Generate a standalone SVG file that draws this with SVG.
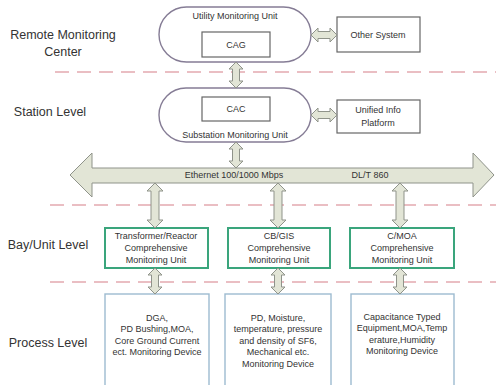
<svg xmlns="http://www.w3.org/2000/svg" width="496" height="385" viewBox="0 0 496 385">
<style>
text{font-family:"Liberation Sans",Arial,sans-serif;fill:#333;text-anchor:middle}
.lvl{font-size:12.5px}
.sm{font-size:9px}
.dash{stroke:#e3a9b0;stroke-width:1.6;stroke-dasharray:14 8;fill:none}
.pill{fill:#fff;stroke:#857c95;stroke-width:1.4}
.box{fill:#fff;stroke:#666;stroke-width:1.2}
.bay{fill:#fff;stroke:#3aa57c;stroke-width:2}
.proc{fill:#fff;stroke:#9dbbd0;stroke-width:1.4}
.arr{fill:#e2e5d6;stroke:#8f938a;stroke-width:1}
</style>
<rect width="496" height="385" fill="#fff"/>
<g id="levels">
<text class="lvl" x="63" y="39">Remote Monitoring</text>
<text class="lvl" x="63" y="56">Center</text>
<text class="lvl" x="50" y="116">Station Level</text>
<text class="lvl" x="48" y="249">Bay/Unit Level</text>
<text class="lvl" x="48" y="347">Process Level</text>
</g>
<g id="dividers">
<line class="dash" x1="55" y1="72" x2="496" y2="72"/>
<line class="dash" x1="50" y1="205" x2="496" y2="205"/>
<line class="dash" x1="50" y1="282" x2="496" y2="282"/>
</g>
<g id="utility">
<rect class="pill" x="159" y="7" width="152" height="55" rx="27.5"/>
<text class="sm" x="235" y="19">Utility Monitoring Unit</text>
<rect class="box" x="202" y="32" width="68" height="25"/>
<text class="sm" x="236" y="48">CAG</text>
</g>
<g id="other">
<rect class="box" x="337" y="17" width="83" height="35"/>
<text class="sm" x="378" y="38">Other System</text>
</g>
<g id="substation">
<rect class="pill" x="159" y="88" width="152" height="54" rx="27"/>
<rect class="box" x="202" y="97" width="68" height="24"/>
<text class="sm" x="236" y="112">CAC</text>
<text class="sm" x="235" y="138">Substation Monitoring Unit</text>
</g>
<g id="unified">
<rect class="box" x="337" y="100" width="83" height="33"/>
<text class="sm" x="378" y="113">Unified Info</text>
<text class="sm" x="378" y="126">Platform</text>
</g>
<g id="ethernet">
<polygon class="arr" points="70,175 92,153 92,168 473,168 473,153 494,175 473,197 473,183 92,183 92,197"/>
<text class="sm" x="234" y="178">Ethernet 100/1000 Mbps</text>
<text class="sm" x="370" y="178">DL/T 860</text>
</g>
<g id="bay1">
<rect class="bay" x="105" y="228" width="103" height="40"/>
<text class="sm" x="156" y="239">Transformer/Reactor</text>
<text class="sm" x="156" y="251">Comprehensive</text>
<text class="sm" x="156" y="263">Monitoring Unit</text>
</g>
<g id="bay2">
<rect class="bay" x="228" y="228" width="102" height="40"/>
<text class="sm" x="279" y="239">CB/GIS</text>
<text class="sm" x="279" y="251">Comprehensive</text>
<text class="sm" x="279" y="263">Monitoring Unit</text>
</g>
<g id="bay3">
<rect class="bay" x="350" y="228" width="104" height="40"/>
<text class="sm" x="402" y="239">C/MOA</text>
<text class="sm" x="402" y="251">Comprehensive</text>
<text class="sm" x="402" y="263">Monitoring Unit</text>
</g>
<g id="proc1">
<rect class="proc" x="105" y="294" width="104" height="100"/>
<text class="sm" x="157" y="321">DGA,</text>
<text class="sm" x="157" y="332">PD Bushing,MOA,</text>
<text class="sm" x="157" y="344">Core Ground Current</text>
<text class="sm" x="157" y="355">ect. Monitoring Device</text>
</g>
<g id="proc2">
<rect class="proc" x="225" y="294" width="106" height="100"/>
<text class="sm" x="278" y="321">PD, Moisture,</text>
<text class="sm" x="278" y="332">temperature, pressure</text>
<text class="sm" x="278" y="344">and density of SF6,</text>
<text class="sm" x="278" y="355">Mechanical  etc.</text>
<text class="sm" x="278" y="367">Monitoring Device</text>
</g>
<g id="proc3">
<rect class="proc" x="351" y="294" width="103" height="100"/>
<text class="sm" x="402" y="320">Capacitance Typed</text>
<text class="sm" x="402" y="331">Equipment,MOA,Temp</text>
<text class="sm" x="402" y="343">erature,Humidity</text>
<text class="sm" x="402" y="354">Monitoring Device</text>
</g>
<g id="connectors">
<path class="arr" d="M236,62 l7,7 h-3.5 v12 h3.5 l-7,7 l-7,-7 h3.5 v-12 h-3.5 z"/>
<path class="arr" d="M236,142 l7,7 h-3.5 v12 h3.5 l-7,7 l-7,-7 h3.5 v-12 h-3.5 z"/>
<path class="arr" d="M311,35 l7,-7 v3.5 h12 v-3.5 l7,7 l-7,7 v-3.5 h-12 v3.5 z"/>
<path class="arr" d="M311,115 l7,-7 v3.5 h12 v-3.5 l7,7 l-7,7 v-3.5 h-12 v3.5 z"/>
<path class="arr" d="M155,183 l8,8 h-4 v29 h4 l-8,8 l-8,-8 h4 v-29 h-4 z"/>
<path class="arr" d="M278,183 l8,8 h-4 v29 h4 l-8,8 l-8,-8 h4 v-29 h-4 z"/>
<path class="arr" d="M400,183 l8,8 h-4 v29 h4 l-8,8 l-8,-8 h4 v-29 h-4 z"/>
<path class="arr" d="M155,268 l7,7 h-3.5 v12 h3.5 l-7,7 l-7,-7 h3.5 v-12 h-3.5 z"/>
<path class="arr" d="M278,268 l7,7 h-3.5 v12 h3.5 l-7,7 l-7,-7 h3.5 v-12 h-3.5 z"/>
<path class="arr" d="M400,268 l7,7 h-3.5 v12 h3.5 l-7,7 l-7,-7 h3.5 v-12 h-3.5 z"/>
</g>
</svg>
